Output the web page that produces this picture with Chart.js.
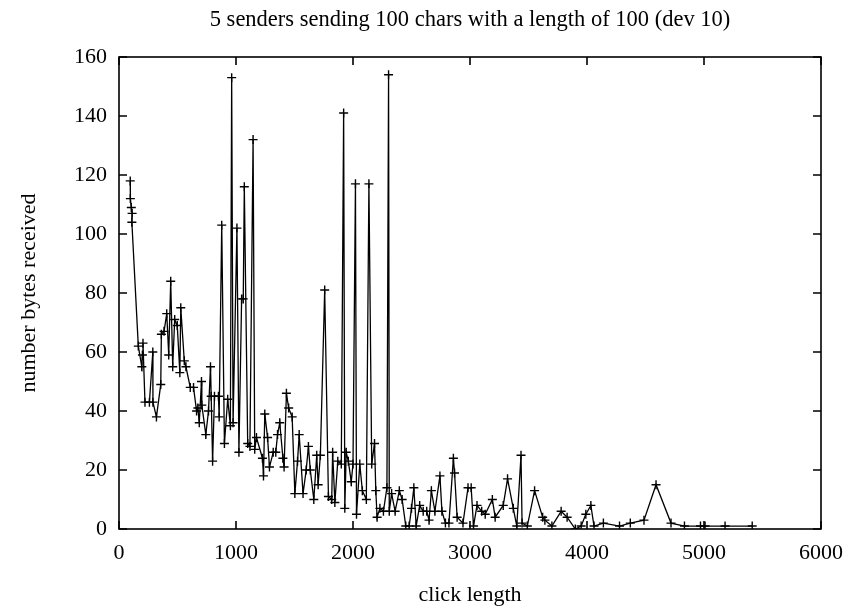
<!DOCTYPE html>
<html>
<head>
<meta charset="utf-8">
<script src="https://cdn.jsdelivr.net/npm/chart.js@4/dist/chart.umd.min.js"></script>
<style>
  html, body { margin: 0; padding: 0; background: #fff; }
  #wrap { width: 854px; height: 608px; }
</style>
</head>
<body>
<div id="wrap"><canvas id="myChart" width="854" height="608"></canvas></div>
<script>
// click length (x) and bytes received (y)
const clickLength = [
  96, 97, 105, 112, 110, 165, 195, 200, 205, 222,
  260, 289, 290, 320, 357, 362, 385, 408, 425, 442,
  459, 476, 498, 520, 528, 558, 572, 609, 637, 663,
  674, 686, 705, 708, 742, 765, 782, 788, 800, 816,
  850, 856, 878, 901, 929, 952, 963, 975, 1008, 1025,
  1048, 1062, 1071, 1100, 1119, 1146, 1160, 1175, 1226, 1235,
  1246, 1270, 1286, 1318, 1340, 1355, 1374, 1401, 1411, 1431,
  1450, 1480, 1503, 1526, 1540, 1573, 1600, 1619, 1635, 1665,
  1690, 1702, 1721, 1758, 1790, 1818, 1826, 1845, 1870, 1900,
  1920, 1930, 1942, 1960, 1985, 2000, 2021, 2030, 2058, 2080,
  2114, 2136, 2160, 2184, 2195, 2206, 2230, 2260, 2290, 2304,
  2310, 2330, 2360, 2396, 2420, 2451, 2480, 2500, 2520, 2540,
  2570, 2600, 2630, 2650, 2670, 2700, 2743, 2760, 2790, 2820,
  2858, 2868, 2890, 2940, 2983, 3010, 3030, 3060, 3100, 3130,
  3191, 3215, 3284, 3321, 3370, 3400, 3436, 3445, 3490, 3552,
  3621, 3640, 3700, 3779, 3830, 3900, 3950, 3990, 4033, 4060,
  4140, 4278, 4370, 4487, 4590, 4718, 4833, 4970, 5009, 5180,
  5412
];
const bytesReceived = [
  118, 112, 109, 107, 104, 62, 55, 59, 63, 43,
  43, 60, 43, 38, 49, 66, 67, 73, 59, 84,
  55, 71, 69, 53, 75, 57, 55, 48, 48, 40,
  41, 36, 50, 42, 32, 40, 55, 45, 23, 45,
  45, 38, 103, 29, 44, 35, 153, 36, 102, 26,
  78, 78, 116, 29, 28, 132, 27, 31, 24, 18,
  39, 31, 21, 26, 26, 32, 36, 24, 21, 46,
  41, 38, 12, 23, 32, 12, 20, 28, 20, 10,
  25, 15, 25, 81, 11, 10, 26, 9, 23, 22,
  141, 7, 26, 23, 16, 22, 117, 5, 22, 13,
  10, 117, 22, 29, 13, 4, 7, 6, 14, 154,
  6, 12, 6, 13, 10, 1, 1, 7, 14, 1,
  8, 6, 6, 3, 13, 6, 18, 6, 2, 2,
  24, 19, 4, 2, 14, 14, 1, 8, 6, 5,
  10, 4, 8, 17, 7, 1, 25, 2, 1, 13,
  4, 3, 1, 6, 4, 0, 1, 5, 8, 1,
  2, 1, 2, 3, 15, 2, 1, 1, 1, 1,
  1
];
const xTicks = [0, 1000, 2000, 3000, 4000, 5000, 6000];
const yTicks = [0, 20, 40, 60, 80, 100, 120, 140, 160];

const points = clickLength.map((x, i) => ({ x: x, y: bytesReceived[i] }));
const serif = "'Liberation Serif', 'DejaVu Serif', serif";

// gnuplot style frame with inward ticks on all four sides
const frameTicks = {
  id: "frameTicks",
  afterDatasetsDraw(chart) {
    const { ctx, chartArea: a, scales } = chart;
    const len = 8;
    ctx.save();
    ctx.strokeStyle = "#000";
    ctx.lineWidth = 1.6;
    ctx.strokeRect(a.left, a.top, a.right - a.left, a.bottom - a.top);
    ctx.beginPath();
    xTicks.forEach((v) => {
      const px = scales.x.getPixelForValue(v);
      ctx.moveTo(px, a.bottom); ctx.lineTo(px, a.bottom - len);
      ctx.moveTo(px, a.top); ctx.lineTo(px, a.top + len);
    });
    yTicks.forEach((v) => {
      const py = scales.y.getPixelForValue(v);
      ctx.moveTo(a.left, py); ctx.lineTo(a.left + len, py);
      ctx.moveTo(a.right, py); ctx.lineTo(a.right - len, py);
    });
    ctx.stroke();
    ctx.restore();
  },
};

new Chart(document.getElementById("myChart").getContext("2d"), {
  type: "scatter",
  data: {
    datasets: [
      {
        label: "bytes",
        data: points,
        showLine: true,
        borderColor: "#000",
        borderWidth: 1.3,
        pointStyle: "cross",
        pointRadius: 4.5,
        pointBorderWidth: 1.4,
        pointBorderColor: "#000",
        pointBackgroundColor: "#000",
        tension: 0,
      },
    ],
  },
  options: {
    responsive: false,
    animation: false,
    layout: { padding: { left: 0, right: 31, top: 0, bottom: 0 } },
    plugins: {
      legend: { display: false },
      tooltip: { enabled: false },
      title: {
        display: true,
        fullSize: false,
        text: "5 senders sending 100 chars with a length of 100 (dev 10)",
        color: "#000",
        font: { family: serif, size: 22.5, weight: "normal" },
        padding: { top: 7, bottom: 23 },
      },
    },
    scales: {
      x: {
        type: "linear",
        min: 0,
        max: 6000,
        afterBuildTicks: (s) => { s.ticks = xTicks.map((v) => ({ value: v })); },
        afterFit: (s) => { s.height = 79; },
        grid: { display: false, drawTicks: false },
        border: { display: false },
        ticks: {
          color: "#000",
          padding: 11,
          maxRotation: 0,
          font: { family: serif, size: 22 },
          callback: (v) => String(v),
        },
        title: {
          display: true,
          text: "click length",
          color: "#000",
          font: { family: serif, size: 22 },
          padding: { top: 6, bottom: 0 },
        },
      },
      y: {
        type: "linear",
        min: 0,
        max: 160,
        afterBuildTicks: (s) => { s.ticks = yTicks.map((v) => ({ value: v })); },
        afterFit: (s) => { s.width = 119; },
        grid: { display: false, drawTicks: false },
        border: { display: false },
        ticks: {
          color: "#000",
          padding: 12,
          font: { family: serif, size: 22 },
          callback: (v) => String(v),
        },
        title: {
          display: true,
          text: "number bytes received",
          color: "#000",
          font: { family: serif, size: 22 },
          padding: { top: 16, bottom: 0 },
        },
      },
    },
  },
  plugins: [frameTicks],
});
</script>
</body>
</html>
